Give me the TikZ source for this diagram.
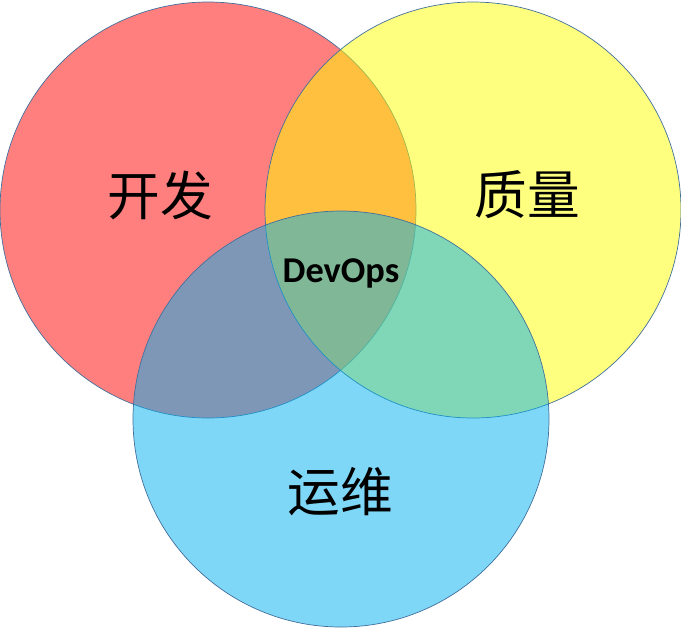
\documentclass[tikz,border=0pt]{standalone}
\usepackage{fontspec}
\setsansfont{Carlito}
\newfontfamily\cjk{Noto Sans CJK SC}
\usetikzlibrary{positioning}
\definecolor{devred}{rgb}{1.00,0.00,0.00}
\definecolor{qayellow}{rgb}{1.00,1.00,0.00}
\definecolor{opsblue}{rgb}{0.00,0.69,0.94}
\definecolor{rimblue}{rgb}{0.26,0.44,0.61}
\tikzset{
  area/.style={circle, draw=rimblue, fill=#1, fill opacity=0.5, line width=0.6pt,
               minimum size=416*0.03cm, inner sep=0pt},
  zh/.style={font=\cjk\fontsize{45}{50}\selectfont, text=black},
  core/.style={font=\sffamily\bfseries\fontsize{31}{36}\selectfont, text=black},
}

\begin{document}
\begin{tikzpicture}[x=0.03cm, y=-0.03cm]
    \useasboundingbox (0,0) rectangle (681,630);
    % the three circles
    \node[area=devred] (dev) at (208,210) {};
    \node[area=qayellow] (qa) at (473,210) {};
    \node[area=opsblue] (ops) at (341,419) {};
    % labels
    \node[zh] (devtxt) at (160,195) {开发};
    \node[zh] (qatxt) at (527,195) {质量};
    \node[zh] (opstxt) at (340,492) {运维};
    \node[core] (center) at (341,273) {DevOps};
  \end{tikzpicture}
\end{document}
